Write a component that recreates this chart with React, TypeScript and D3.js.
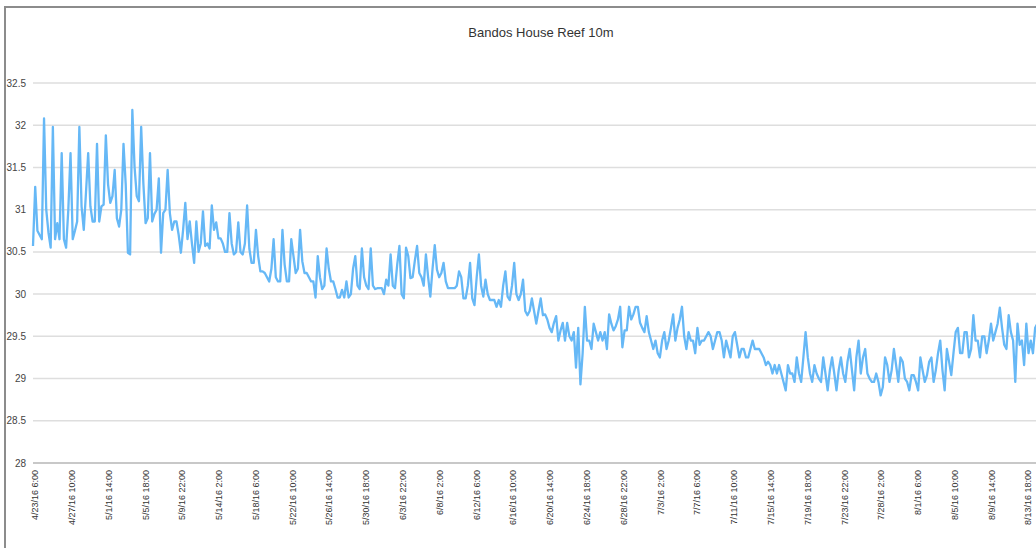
import React, { useEffect, useRef } from "react";
import * as d3 from "d3";

// readings every 6 hours, first one at 4/23/16 6:00
const stepHours = 6;
const temps = [
  30.57, 31.27, 30.75, 30.7, 30.65, 32.08, 31.0, 30.73,
  30.55, 31.98, 30.65, 30.84, 30.65, 31.67, 30.65, 30.55,
  31.0, 31.67, 30.65, 30.75, 30.86, 31.98, 31.04, 30.76,
  31.2, 31.67, 31.04, 30.86, 30.86, 31.78, 30.86, 31.04,
  31.06, 31.88, 31.3, 31.08, 31.16, 31.47, 30.9, 30.8,
  31.0, 31.78, 31.3, 30.49, 30.47, 32.18, 31.51, 31.16,
  31.1, 31.98, 31.31, 30.84, 30.9, 31.67, 30.86, 30.95,
  31.0, 31.37, 30.49, 30.96, 31.0, 31.47, 30.96, 30.76,
  30.86, 30.86, 30.7, 30.49, 30.76, 31.08, 30.65, 30.86,
  30.6, 30.37, 30.86, 30.5, 30.6, 30.98, 30.57, 30.6,
  30.54, 31.05, 30.76, 30.85, 30.66, 30.66, 30.6, 30.5,
  30.5, 30.96, 30.6, 30.47, 30.5, 30.85, 30.5, 30.47,
  30.6, 31.05, 30.54, 30.37, 30.37, 30.76, 30.45, 30.27,
  30.27, 30.25, 30.2, 30.15, 30.3, 30.65, 30.2, 30.15,
  30.15, 30.76, 30.35, 30.15, 30.15, 30.65, 30.45, 30.25,
  30.3, 30.76, 30.39, 30.25, 30.25, 30.2, 30.15, 30.15,
  29.96, 30.45, 30.2, 30.06, 30.1, 30.54, 30.3, 30.15,
  30.15, 30.06, 29.96, 29.96, 30.05, 29.96, 30.15, 29.96,
  30.0, 30.3, 30.45, 30.1, 30.06, 30.54, 30.2, 30.1,
  30.06, 30.54, 30.1, 30.06, 30.07, 30.07, 30.07, 30.0,
  30.17, 30.1, 30.47, 30.1, 30.07, 30.35, 30.57, 30.0,
  29.95, 30.55, 30.45, 30.19, 30.2, 30.4, 30.57, 30.25,
  30.2, 30.1, 30.47, 30.2, 29.97, 30.3, 30.58, 30.29,
  30.2, 30.25, 30.37, 30.15, 30.07, 30.07, 30.07, 30.07,
  30.1, 30.27, 30.2, 29.95, 29.95, 30.1, 30.37, 29.95,
  29.87, 30.2, 30.47, 30.1, 29.97, 30.17, 30.0, 29.93,
  29.93, 29.93, 29.85, 29.93, 29.85, 30.1, 30.27, 29.97,
  29.93, 30.1, 30.37, 30.0, 29.93, 30.0, 30.17, 29.8,
  29.75, 29.8, 29.95, 29.8, 29.65, 29.8, 29.95, 29.75,
  29.76, 29.7, 29.6, 29.55, 29.66, 29.74, 29.45, 29.57,
  29.66, 29.45, 29.66, 29.5, 29.45, 29.55, 29.13, 29.6,
  28.93, 29.3, 29.85, 29.45, 29.45, 29.35, 29.65, 29.55,
  29.45, 29.55, 29.45, 29.55, 29.35, 29.76, 29.65, 29.57,
  29.62, 29.7, 29.85, 29.37, 29.57, 29.57, 29.85, 29.7,
  29.76, 29.85, 29.85, 29.66, 29.6, 29.55, 29.74, 29.55,
  29.45, 29.35, 29.45, 29.3, 29.25, 29.45, 29.55, 29.35,
  29.45, 29.6, 29.76, 29.45, 29.6, 29.7, 29.85, 29.5,
  29.35, 29.55, 29.45, 29.45, 29.3, 29.6, 29.4, 29.45,
  29.45, 29.5, 29.55, 29.5, 29.35, 29.45, 29.55, 29.55,
  29.45, 29.25, 29.45, 29.35, 29.25, 29.5, 29.55, 29.4,
  29.25, 29.35, 29.35, 29.25, 29.25, 29.35, 29.45, 29.35,
  29.35, 29.35, 29.3, 29.25, 29.16, 29.2, 29.16, 29.06,
  29.16, 29.06, 29.16, 29.06, 28.96, 28.86, 29.16, 29.06,
  29.06, 28.96, 29.25, 29.06, 28.96, 29.25, 29.55, 29.25,
  29.06, 28.96, 29.16, 29.06, 29.0, 28.96, 29.25, 29.06,
  28.86, 29.1, 29.25, 29.06, 28.86, 29.1, 29.25, 29.06,
  28.96, 29.2, 29.35, 29.1, 28.86, 29.25, 29.45, 29.06,
  29.25, 29.35, 29.06, 29.0, 28.96, 28.96, 29.06, 28.96,
  28.8, 28.9, 29.25, 29.16, 28.96, 29.1, 29.35, 29.16,
  28.96, 29.25, 29.2, 29.0, 28.96, 28.86, 29.04, 29.04,
  28.96, 28.86, 29.25, 29.1, 28.96, 29.04, 29.2, 29.25,
  28.96, 29.1, 29.3, 29.45, 29.1, 28.86, 29.35, 29.2,
  29.04, 29.3, 29.55, 29.6, 29.3, 29.3, 29.55, 29.55,
  29.25, 29.35, 29.75, 29.45, 29.45, 29.25, 29.5, 29.5,
  29.3, 29.45, 29.65, 29.45, 29.55, 29.65, 29.84, 29.6,
  29.4, 29.35, 29.75, 29.55, 29.45, 28.96, 29.65, 29.4,
  29.45, 29.16, 29.65, 29.3, 29.45, 29.3, 29.6, 29.65,
];

// category labels shown every 100 hours
const tickEvery = 100;
const xLabels = [
  "4/23/16 6:00", "4/27/16 10:00", "5/1/16 14:00", "5/5/16 18:00",
  "5/9/16 22:00", "5/14/16 2:00", "5/18/16 6:00", "5/22/16 10:00",
  "5/26/16 14:00", "5/30/16 18:00", "6/3/16 22:00", "6/8/16 2:00",
  "6/12/16 6:00", "6/16/16 10:00", "6/20/16 14:00", "6/24/16 18:00",
  "6/28/16 22:00", "7/3/16 2:00", "7/7/16 6:00", "7/11/16 10:00",
  "7/15/16 14:00", "7/19/16 18:00", "7/23/16 22:00", "7/28/16 2:00",
  "8/1/16 6:00", "8/5/16 10:00", "8/9/16 14:00", "8/13/16 18:00",
];
const yTicks = [28, 28.5, 29, 29.5, 30, 30.5, 31, 31.5, 32, 32.5];

const W = 1036;
const H = 548;

const App = () => {
  const ref = useRef<SVGSVGElement>(null);

  useEffect(() => {
    const svg = d3.select(ref.current);
    svg.selectAll("*").remove();

    const left = 33;
    const pxPerHour = 0.3679;
    const x = d3.scaleLinear().domain([0, 2720]).range([left, left + 2720 * pxPerHour]);
    const y = d3.scaleLinear().domain([28, 32.5]).range([463, 83]);

    // frame of the screenshot
    svg.append("line").attr("x1", 5).attr("x2", W).attr("y1", 7).attr("y2", 7)
      .attr("stroke", "#8c8c8c").attr("stroke-width", 2);
    svg.append("line").attr("x1", 5).attr("x2", 5).attr("y1", 6).attr("y2", H)
      .attr("stroke", "#8c8c8c").attr("stroke-width", 2);

    svg.append("text")
      .attr("x", 541).attr("y", 37)
      .attr("text-anchor", "middle")
      .attr("font-size", 13)
      .attr("fill", "#333")
      .text("Bandos House Reef 10m");

    // gridlines + y labels
    svg.append("g").selectAll("line")
      .data(yTicks)
      .join("line")
      .attr("x1", left).attr("x2", W)
      .attr("y1", d => y(d)).attr("y2", d => y(d))
      .attr("stroke", d => (d === 28 ? "#c8c8c8" : "#dedede"))
      .attr("stroke-width", d => (d === 28 ? 2 : 1.5));

    svg.append("g").selectAll("text")
      .data(yTicks)
      .join("text")
      .attr("x", 26).attr("y", d => y(d))
      .attr("dy", "0.35em")
      .attr("text-anchor", "end")
      .attr("font-size", 10)
      .attr("fill", "#444")
      .text(d => String(d));

    // rotated category labels
    svg.append("g").selectAll("text")
      .data(xLabels)
      .join("text")
      .attr("transform", (d, i) => `translate(${x(i * tickEvery) + 2},470) rotate(-90)`)
      .attr("dy", "0.35em")
      .attr("text-anchor", "end")
      .attr("font-size", 9)
      .attr("fill", "#333")
      .text(d => d);

    const line = d3.line<number>()
      .x((d, i) => x(i * stepHours))
      .y(d => y(d));

    svg.append("path")
      .datum(temps)
      .attr("d", line)
      .attr("fill", "none")
      .attr("stroke", "#66b8f6")
      .attr("stroke-width", 2.3)
      .attr("stroke-linejoin", "round");
  }, []);

  return (
    <svg
      ref={ref}
      width={W}
      height={H}
      style={{ position: "absolute", left: 0, top: 0, background: "#fff", fontFamily: "'Liberation Sans', Arial, sans-serif" }}
    />
  );
};

export default App;
